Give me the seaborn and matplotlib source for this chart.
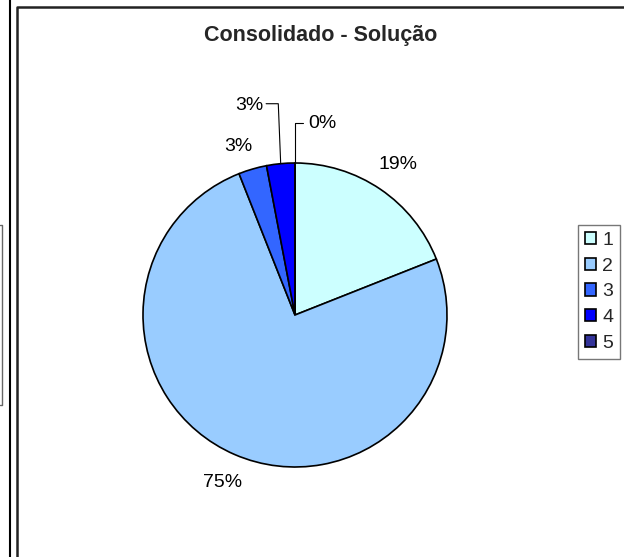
import numpy as np
import matplotlib.pyplot as plt
from matplotlib.lines import Line2D
import seaborn as sns

# chart data
categories = ["1", "2", "3", "4", "5"]
shares = [19, 75, 3, 3, 0]
pct_labels = ["19%", "75%", "3%", "3%", "0%"]
colors = ["#CCFFFF", "#99CCFF", "#3366FF", "#0000FF", "#333399"]

sns.set_theme(style="white")
plt.rcParams['font.family'] = ['Liberation Sans', 'DejaVu Sans']

W, H = 624, 557
fig = plt.figure(figsize=(W / 100, H / 100), dpi=100)
fig.patch.set_facecolor("white")

# pie axes: centre (295, 315) px, radius 152 px
cx, cy, r = 295, 315, 152
ax = fig.add_axes([(cx - r) / W, (H - cy - r) / H, 2 * r / W, 2 * r / H])
wedges, texts = ax.pie(shares, colors=colors, startangle=90, counterclock=False,
                       labels=pct_labels, labeldistance=1.2,
                       wedgeprops=dict(edgecolor="black", linewidth=1.2),
                       textprops=dict(fontsize=14, color="black"))
ax.set_xlim(-1, 1)
ax.set_ylim(-1, 1)
for t in texts:
    t.set_ha("center")
    t.set_va("center")

# small slices get leader lines
def mid_angle(w):
    return np.deg2rad((w.theta1 + w.theta2) / 2)

a4 = mid_angle(wedges[3])
texts[3].set_position((-0.30, 1.38))
ax.add_line(Line2D([-0.19, -0.11, np.cos(a4)], [1.39, 1.39, np.sin(a4)],
                   color="black", lw=0.8, clip_on=False))
a5 = mid_angle(wedges[4])
texts[4].set_position((0.18, 1.26))
ax.add_line(Line2D([0.05, 0.0, np.cos(a5)], [1.26, 1.26, np.sin(a5)],
                   color="black", lw=0.8, clip_on=False))
texts[2].set_position((-0.37, 1.11))

fig.text(321 / W, 1 - 35 / H, "Consolidado - Solução", ha="center", va="center",
         fontsize=15.5, fontweight="bold")

leg = fig.legend(wedges, categories, loc="upper left",
                 bbox_to_anchor=(578 / W, 1 - 225 / H), fontsize=14,
                 frameon=True, fancybox=False, edgecolor="#555555",
                 handlelength=0.6, handleheight=0.6, handletextpad=0.3,
                 labelspacing=0.45, borderpad=0.35, borderaxespad=0)
leg.get_frame().set_linewidth(1.0)

# chart-area frames (neighbouring chart edge and this chart's border)
def fline(xs, ys, **kw):
    fig.add_artist(Line2D([x / W for x in xs], [1 - y / H for y in ys], **kw))

fline([9.5, 9.5], [0, H], color="black", lw=1.5)
fline([17, 17, W], [H, 6.5, 6.5], color="#222222", lw=1.8)
fline([0, 2, 2, 0], [225, 225, 405, 405], color="#666666", lw=1.0)

fig.savefig("out.png", dpi=100, facecolor="white")
